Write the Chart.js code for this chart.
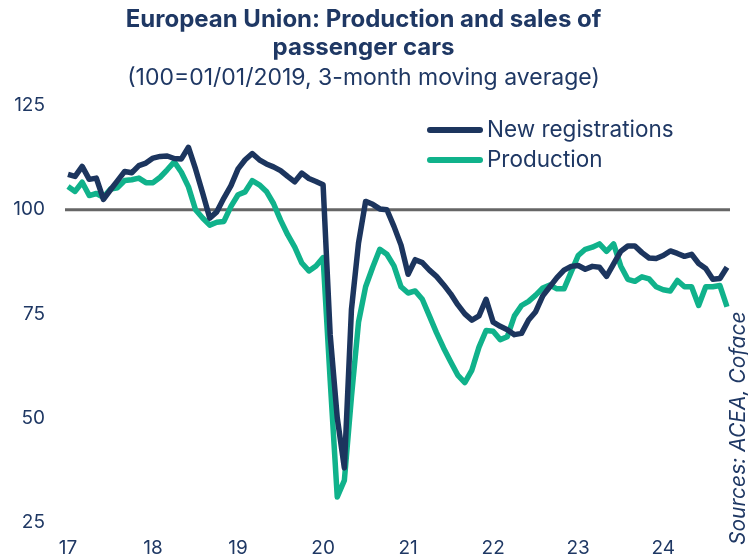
<!DOCTYPE html>
<html>
<head>
<meta charset="utf-8">
<script src="https://cdn.jsdelivr.net/npm/chart.js@4/dist/chart.umd.min.js"></script>
<style>
  html, body { margin: 0; padding: 0; background: #fff; overflow: hidden; }
  #wrap { width: 748px; height: 556px; overflow: hidden; }
  #box { width: 748px; height: 575px; }
</style>
</head>
<body>
<div id="wrap"><div id="box"><canvas id="chart"></canvas></div></div>
<script>
// years shown on the x axis, one point per month from Jan 2017 to Oct 2024
const years = ['17', '18', '19', '20', '21', '22', '23', '24'];
const lastYearMonths = 10;

const yTicks = [25, 50, 75, 100, 125];

const newRegistrations = [
  108.5, 108, 110.4, 107.3, 107.6, 102.5, 104.8, 107, 109.2, 108.9, 110.6, 111.2,
  112.4, 112.8, 112.9, 112.3, 112.2, 115, 109.8, 104, 98, 99.5, 102.8, 105.8,
  109.8, 112, 113.5, 112, 111, 110.3, 109.4, 108, 106.7, 108.8, 107.5, 106.8,
  106, 70, 50, 38, 76, 92, 102, 101.3, 100.2, 100, 96, 91.5,
  84.5, 88, 87.3, 85.5, 84, 82, 79.8, 77.2, 75, 73.5, 74.5, 78.5,
  73, 72, 71.2, 70, 70.3, 73.5, 75.5, 79.3, 81.5, 83.7, 85.5, 86.4,
  86.6, 85.7, 86.4, 86.2, 84, 87, 90, 91.3, 91.3, 89.7, 88.4, 88.3,
  89, 90.1, 89.5, 88.8, 89.3, 87.1, 85.9, 83.3, 83.5, 86.2
];

const production = [
  105.6, 104.4, 106.6, 103.4, 103.9, 103, 105, 105.3, 107, 107.2, 107.6, 106.5,
  106.5, 107.8, 109.6, 111.5, 109, 105.5, 100, 98, 96.3, 97, 97.2, 100.8,
  103.6, 104.3, 107, 106, 104.4, 101.5, 97.5, 94, 91, 87.2, 85.3, 86.5,
  88.5, 59, 31, 35, 55, 73, 81.5, 86.2, 90.5, 89.3, 86.5, 81.5,
  80, 80.5, 78.5, 74.5, 70.5, 66.8, 63.5, 60.3, 58.5, 61.5, 67, 71,
  70.8, 68.8, 69.5, 74.5, 77, 78, 79.5, 81.2, 81.9, 81, 81, 85,
  89, 90.5, 91, 91.8, 90, 91.8, 86.5, 83.3, 82.8, 83.9, 83.4, 81.5,
  80.8, 80.5, 83, 81.5, 81.5, 77, 81.5, 81.5, 81.8, 76.7
];

const NAVY = '#1c355e';
const GREEN = '#10b28b';
const TEXT = '#1f3864';
const FONT = 'Inter, "Open Sans", sans-serif';

const monthLabels = [];
years.forEach((yr, yi) => {
  const n = yi === years.length - 1 ? lastYearMonths : 12;
  for (let m = 0; m < n; m += 1) {
    monthLabels.push(m === 0 ? yr : '');
  }
});

const refLine = {
  id: 'refLine',
  beforeDatasetsDraw(chart) {
    const { ctx, chartArea, scales } = chart;
    const y = scales.y.getPixelForValue(100);
    ctx.save();
    ctx.strokeStyle = '#666666';
    ctx.lineWidth = 3;
    ctx.beginPath();
    ctx.moveTo(chartArea.left - 3, y);
    ctx.lineTo(chartArea.right + 3, y);
    ctx.stroke();
    ctx.restore();
  }
};

const insideLegend = {
  id: 'insideLegend',
  afterDatasetsDraw(chart) {
    const { ctx } = chart;
    ctx.save();
    chart.data.datasets.forEach((ds, i) => {
      const y = 130 + i * 30;
      ctx.strokeStyle = ds.borderColor;
      ctx.lineWidth = 6;
      ctx.lineCap = 'round';
      ctx.beginPath();
      ctx.moveTo(430, y);
      ctx.lineTo(480, y);
      ctx.stroke();
      ctx.fillStyle = TEXT;
      ctx.font = `22.5px ${FONT}`;
      ctx.textBaseline = 'middle';
      ctx.textAlign = 'left';
      ctx.fillText(ds.label, 487, y);
    });
    ctx.restore();
  }
};

const sourceNote = {
  id: 'sourceNote',
  afterDraw(chart) {
    const { ctx } = chart;
    ctx.save();
    ctx.translate(739, 545);
    ctx.rotate(-Math.PI / 2);
    ctx.fillStyle = TEXT;
    ctx.font = `italic 21px ${FONT}`;
    ctx.textBaseline = 'middle';
    ctx.textAlign = 'left';
    ctx.fillText('Sources: ACEA, Coface', 0, 0);
    ctx.restore();
  }
};

// eslint-disable-next-line no-new
new Chart(document.getElementById('chart'), {
  type: 'line',
  data: {
    labels: monthLabels,
    datasets: [{
      label: 'New registrations',
      data: newRegistrations,
      borderColor: NAVY,
      backgroundColor: NAVY,
      borderWidth: 5.5,
      borderJoinStyle: 'round',
      pointRadius: 0,
      tension: 0
    }, {
      label: 'Production',
      data: production,
      borderColor: GREEN,
      backgroundColor: GREEN,
      borderWidth: 5.5,
      borderJoinStyle: 'round',
      pointRadius: 0,
      tension: 0
    }]
  },
  options: {
    responsive: true,
    maintainAspectRatio: false,
    animation: false,
    layout: {
      padding: { left: 0, right: 21, top: 0, bottom: 1 }
    },
    plugins: {
      legend: { display: false },
      tooltip: { enabled: false },
      title: {
        display: true,
        text: ['European Union: Production and sales of', 'passenger cars'],
        color: TEXT,
        font: { family: FONT, size: 24, weight: 'bold', lineHeight: 1.15 },
        padding: { top: 6, bottom: 2 }
      },
      subtitle: {
        display: true,
        text: '(100=01/01/2019, 3-month moving average)',
        color: TEXT,
        font: { family: FONT, size: 23, lineHeight: 1.15 },
        padding: { top: 2, bottom: 14 }
      }
    },
    scales: {
      x: {
        grid: { display: false, drawTicks: false },
        border: { display: false },
        ticks: {
          autoSkip: false,
          maxRotation: 0,
          padding: 14.6,
          color: TEXT,
          font: { family: FONT, size: 19 }
        }
      },
      y: {
        min: 25,
        max: 125,
        afterFit(scale) {
          scale.width = 68;
        },
        afterBuildTicks(scale) {
          scale.ticks = yTicks.map((v) => ({ value: v }));
        },
        grid: { display: false, drawTicks: false },
        border: { display: false },
        ticks: {
          padding: 23,
          color: TEXT,
          font: { family: FONT, size: 19 }
        }
      }
    }
  },
  plugins: [refLine, insideLegend, sourceNote]
});
</script>
</body>
</html>
